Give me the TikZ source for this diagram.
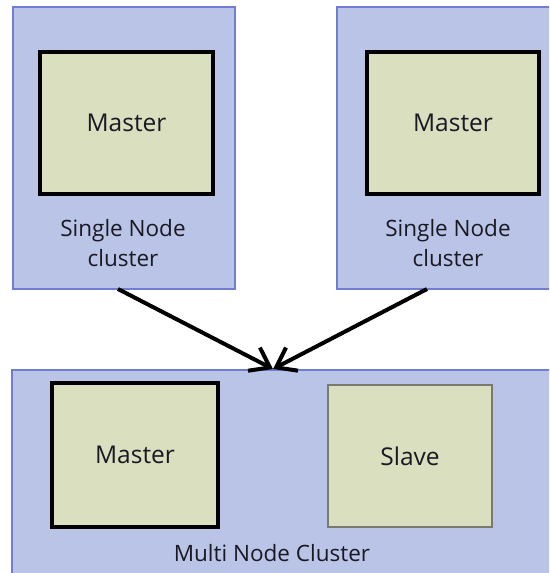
\documentclass[tikz,border=0pt]{standalone}
\usepackage{fontspec}
\setmainfont{Open Sans}
\usetikzlibrary{arrows.meta}
\definecolor{clfill}{RGB}{186,196,230}
\definecolor{cldraw}{RGB}{112,126,210}
\definecolor{bxfill}{RGB}{218,223,192}
\definecolor{slvdraw}{RGB}{120,122,112}
\definecolor{txt}{RGB}{25,25,35}
\begin{document}
\begin{tikzpicture}[x=1pt,y=-1pt,
  cluster/.style={draw=cldraw,fill=clfill,line width=1.5pt,inner sep=0pt},
  masterbox/.style={draw=black,fill=bxfill,line width=4.5pt,inner sep=0pt,text=txt,font=\fontsize{24.5}{28}\selectfont},
  slavebox/.style={draw=slvdraw,fill=bxfill,line width=1.2pt,inner sep=0pt,text=txt,font=\fontsize{24.5}{28}\selectfont},
  lbl/.style={text=txt,align=center,font=\fontsize{22.5}{30}\selectfont},
  conn/.style={line width=4pt,-{Straight Barb[length=18pt,width=26pt,line width=4pt]}}]
\clip (0,0) rectangle (549,573);
\fill[white] (0,0) rectangle (549,573);
% top-left cluster
\node[cluster,minimum width=222pt,minimum height=282pt] (c1) at (124,148) {};
\node[masterbox,minimum width=173pt,minimum height=142pt] (m1) at (126.5,123) {Master};
\node[lbl] (l1) at (123,243) {Single Node\\cluster};
% top-right cluster
\node[cluster,minimum width=222pt,minimum height=282pt] (c2) at (448,148) {};
\node[masterbox,minimum width=172pt,minimum height=142pt] (m2) at (453,123) {Master};
\node[lbl] (l2) at (448,243) {Single Node\\cluster};
% bottom cluster
\node[cluster,minimum width=600pt,minimum height=260pt] (c3) at (312,500) {};
\node[masterbox,minimum width=166pt,minimum height=144pt] (m3) at (135,455) {Master};
\node[slavebox,minimum width=164pt,minimum height=142pt] (s3) at (410,456) {Slave};
\node[lbl] (l3) at (272,553) {Multi Node Cluster};
% connectors
\coordinate (a1) at (118,289);
\coordinate (a2) at (427,289);
\coordinate (t) at (273,369);
\draw[conn] (a1) -- (t);
\draw[conn] (a2) -- (t);
\end{tikzpicture}
\end{document}
